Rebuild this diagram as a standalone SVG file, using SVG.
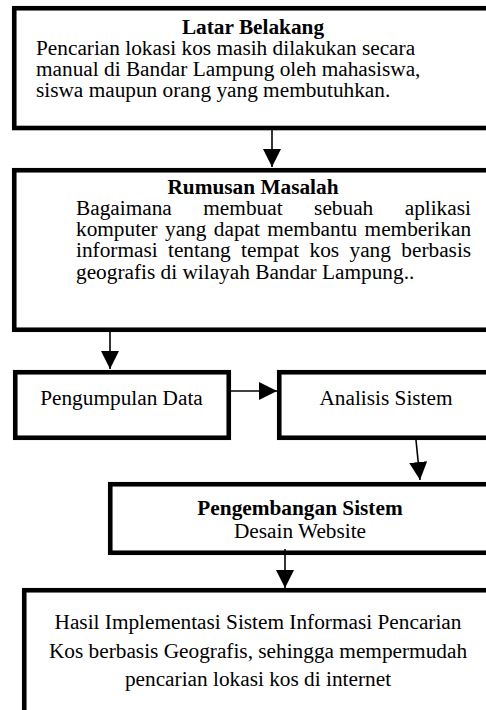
<svg xmlns="http://www.w3.org/2000/svg" width="486" height="710" viewBox="0 0 486 710">
<style>
.box{fill:#fff;stroke:#000;stroke-width:4.6}
.t{font-family:"Liberation Serif","Times New Roman",serif;font-size:21.3px;fill:#000}
.b{font-weight:bold}
.c{text-anchor:middle}
.ln{stroke:#000;stroke-width:1.6;fill:none;marker-end:url(#ah)}
</style>
<defs>
<marker id="ah" viewBox="0 0 18 18" refX="18" refY="9" markerWidth="18" markerHeight="18" markerUnits="userSpaceOnUse" orient="auto">
<path d="M0,0 L18,9 L0,18 Z" fill="#000"/>
</marker>
</defs>
<rect width="486" height="710" fill="#fff"/>
<g id="latar">
<rect class="box" x="14.25" y="8.25" width="500" height="119.75"/>
<text class="t"><tspan class="b c" x="253" y="34">Latar Belakang</tspan><tspan x="36" y="55">Pencarian lokasi kos masih dilakukan secara</tspan><tspan x="36" y="76">manual di Bandar Lampung oleh mahasiswa,</tspan><tspan x="36" y="97">siswa maupun orang yang membutuhkan.</tspan></text>
</g>
<g id="rumusan">
<rect class="box" x="14.25" y="170.25" width="500" height="159.5"/>
<text class="t"><tspan class="b c" x="253" y="194">Rumusan Masalah</tspan><tspan x="76" y="215">Bagaimana</tspan><tspan x="203.3" y="215">membuat</tspan><tspan x="314.1" y="215">sebuah</tspan><tspan x="404.7" y="215">aplikasi</tspan><tspan x="76" y="236">komputer</tspan><tspan x="165" y="236">yang</tspan><tspan x="213.8" y="236">dapat</tspan><tspan x="267.3" y="236">membantu</tspan><tspan x="364.6" y="236">memberikan</tspan><tspan x="76" y="257">informasi</tspan><tspan x="168" y="257">tentang</tspan><tspan x="241.1" y="257">tempat</tspan><tspan x="309.5" y="257">kos</tspan><tspan x="349.5" y="257">yang</tspan><tspan x="401.3" y="257">berbasis</tspan><tspan x="76" y="279">geografis di wilayah Bandar Lampung..</tspan></text>
</g>
<g id="pengumpulan">
<rect class="box" x="15.25" y="372.25" width="213.5" height="65.5"/>
<text class="t c" x="121.5" y="405">Pengumpulan Data</text>
</g>
<g id="analisis">
<rect class="box" x="279.25" y="372.25" width="300" height="65.5"/>
<text class="t c" x="386" y="405">Analisis Sistem</text>
</g>
<g id="pengembangan">
<rect class="box" x="110.25" y="484.25" width="400" height="68.5"/>
<text class="t c"><tspan class="b" x="300" y="515">Pengembangan Sistem</tspan><tspan x="300" y="538">Desain Website</tspan></text>
</g>
<g id="hasil">
<rect class="box" x="24.25" y="590.25" width="500" height="200"/>
<text class="t c"><tspan x="258" y="629">Hasil Implementasi Sistem Informasi Pencarian</tspan><tspan x="258" y="658">Kos berbasis Geografis, sehingga mempermudah</tspan><tspan x="258" y="686">pencarian lokasi kos di internet</tspan></text>
</g>
<g id="connectors">
<line class="ln" x1="272" y1="130" x2="272" y2="167"/>
<line class="ln" x1="110" y1="332" x2="110" y2="369"/>
<line class="ln" x1="231" y1="391" x2="277" y2="391"/>
<line class="ln" x1="416" y1="440" x2="420" y2="480"/>
<line class="ln" x1="285" y1="549" x2="285" y2="588"/>
</g>
</svg>
